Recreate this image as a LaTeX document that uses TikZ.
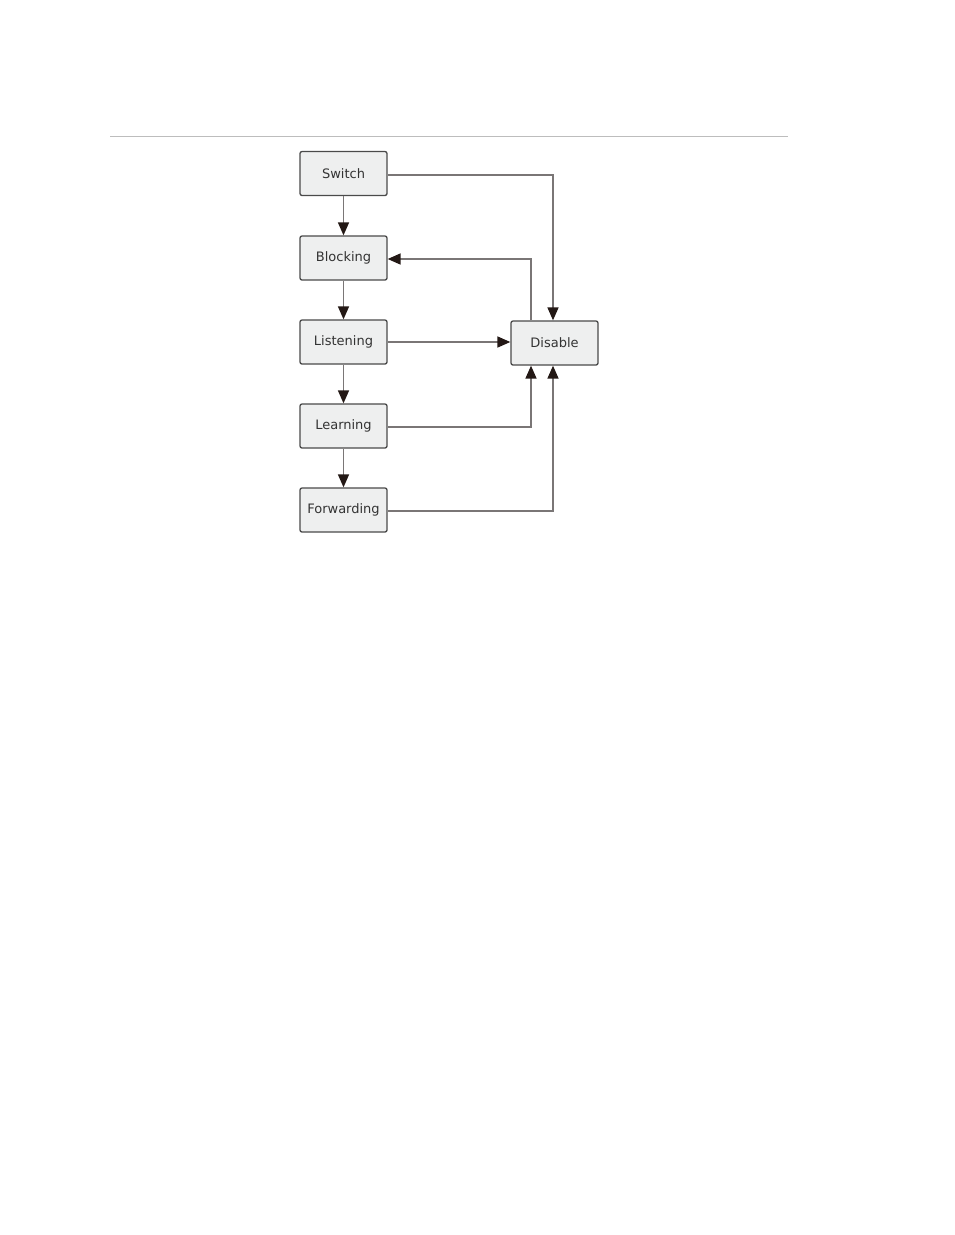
\documentclass[tikz,border=0pt]{standalone}
\usepackage{fontspec}
\setmainfont{DejaVu Sans}
\usetikzlibrary{arrows.meta}
\definecolor{boxfill}{HTML}{EEEFEF}
\definecolor{boxline}{HTML}{4A4A4A}
\definecolor{linec}{HTML}{7A7676}
\definecolor{tipc}{HTML}{231815}
\definecolor{rulec}{HTML}{BDBDBD}
\begin{document}
\begin{tikzpicture}[x=1pt,y=-1pt,
  stbox/.style={draw=boxline,fill=boxfill,rounded corners=2pt,line width=1.3pt,
    minimum width=87pt,minimum height=44pt,inner sep=0pt,font=\fontsize{13}{15}\selectfont,text=black!80},
  conn/.style={draw=linec,line width=1.6pt,-{Triangle[length=13pt,width=11pt,color=tipc]}}]
\useasboundingbox (0,0) rectangle (954,1235);
\draw[rulec,line width=1pt] (110,136) -- (788,136);
\node[stbox] (sw) at (343.5,173.5) {Switch};
\node[stbox] (bl) at (343.5,258) {Blocking};
\node[stbox] (li) at (343.5,342) {Listening};
\node[stbox] (le) at (343.5,426) {Learning};
\node[stbox] (fw) at (343.5,510) {Forwarding};
\node[stbox] (di) at (554.5,343) {Disable};
\coordinate (dA) at (531,343);
\coordinate (dB) at (553,343);
\draw[conn] (sw) -- (bl);
\draw[conn] (bl) -- (li);
\draw[conn] (li) -- (le);
\draw[conn] (le) -- (fw);
\draw[conn] (sw.east |- 0,175) -| (dB |- di.north);
\draw[conn] (dA |- di.north) |- (bl.east |- 0,259);
\draw[conn] (li.east) -- (di.west |- li.east);
\draw[conn] (le.east |- 0,427) -| (dA |- di.south);
\draw[conn] (fw.east |- 0,511) -| (dB |- di.south);
\end{tikzpicture}
\end{document}
